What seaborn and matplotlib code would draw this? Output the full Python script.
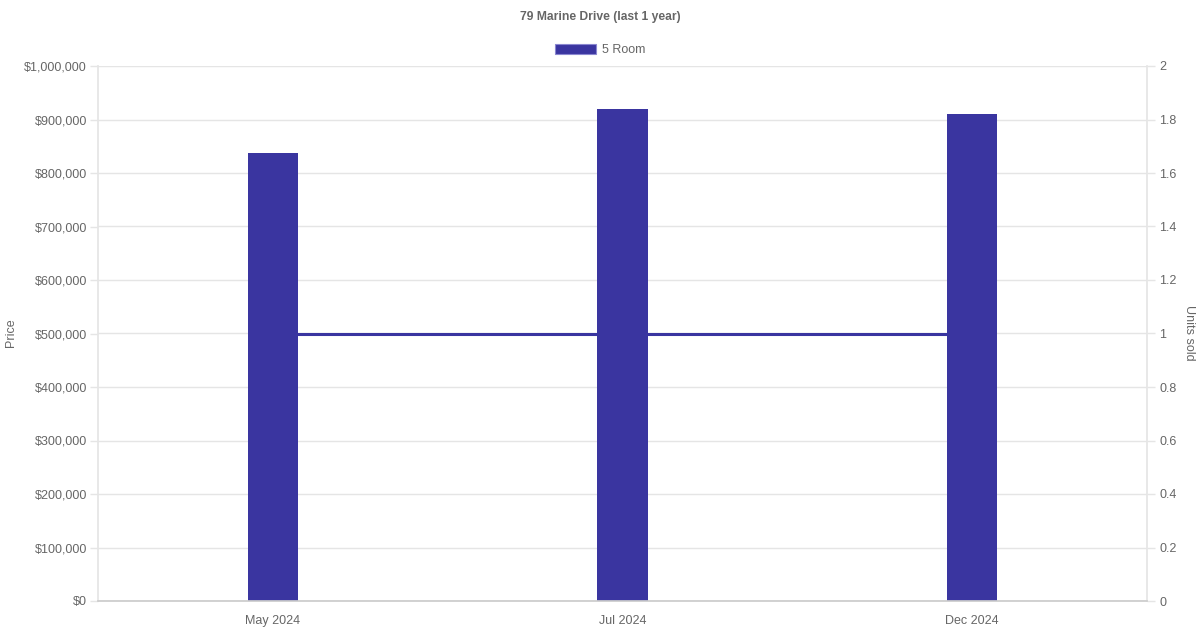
import numpy as np
import pandas as pd
import matplotlib
matplotlib.use("Agg")
import matplotlib.pyplot as plt
import seaborn as sns
from matplotlib.ticker import FuncFormatter, MultipleLocator
from matplotlib.patches import Patch

months = ["May 2024", "Jul 2024", "Dec 2024"]
prices = [837000, 920000, 910000]
units_sold = [1, 1, 1]
series_name = "5 Room"
title = "79 Marine Drive (last 1 year)"

BAR = "#3a35a0"
TXT = "#666666"
GRID = "#e5e5e5"
PX = 0.72  # points per pixel at 100 dpi

sns.set_theme(style="white")
plt.rcParams["font.family"] = ["Liberation Sans", "DejaVu Sans"]

fig = plt.figure(figsize=(12, 6.3), dpi=100)
ax = fig.add_axes([98/1200, 1 - 601/630, (1147-98)/1200, (601-66)/630])

df = pd.DataFrame({"month": months, "price": prices, "units": units_sold})
sns.barplot(data=df, x="month", y="price", color=BAR, width=0.143,
            saturation=1, ax=ax, zorder=3, edgecolor=BAR, linewidth=0)

ax2 = ax.twinx()
sns.lineplot(x=np.arange(len(months)), y=df["units"], color=BAR, linewidth=2.2,
             ax=ax2, zorder=2)
ax.set_zorder(ax2.get_zorder() + 1)
ax.patch.set_visible(False)
ax2.patch.set_visible(True)
ax2.patch.set_facecolor("white")

ax.set_xlim(-0.5, len(months) - 0.5)
ax.set_ylim(0, 1000000)
ax2.set_ylim(0, 2)
ax.yaxis.set_major_locator(MultipleLocator(100000))
ax2.yaxis.set_major_locator(MultipleLocator(0.2))
ax.yaxis.set_major_formatter(FuncFormatter(lambda v, p: "${:,.0f}".format(v)))
ax2.yaxis.set_major_formatter(FuncFormatter(lambda v, p: "{:g}".format(round(v, 1))))

# grid drawn on the (lower) twin axis so the line sits above it
ax.grid(False)
ax2.set_axisbelow(True)
ax2.grid(axis="y", color=GRID, linewidth=1, zorder=0)
ax2.grid(axis="x", visible=False)

for a in (ax, ax2):
    for s in a.spines.values():
        s.set_visible(False)
ax.spines["left"].set_visible(True)
ax.spines["left"].set_color(GRID)
ax.spines["bottom"].set_visible(True)
ax.spines["bottom"].set_color("#cccccc")
ax.spines["bottom"].set_zorder(4)
ax2.spines["right"].set_visible(True)
ax2.spines["right"].set_color(GRID)

ax.tick_params(axis="y", length=8*PX, width=1, color=GRID, labelcolor=TXT, labelsize=9, pad=3*PX)
ax2.tick_params(axis="y", length=8*PX, width=1, color=GRID, labelcolor=TXT, labelsize=9, pad=4*PX)
ax.tick_params(axis="x", length=0, labelcolor=TXT, labelsize=9, pad=10)

ax.set_xlabel("")
ax.set_ylabel("")
ax2.set_ylabel("")
fig.text(11/1200, 1 - 333/630, "Price", rotation=90, ha="center", va="center",
         color=TXT, fontsize=9)
fig.text(1189/1200, 1 - 333/630, "Units sold", rotation=270, ha="center", va="center",
         color=TXT, fontsize=9)

fig.text(0.5, 1 - 17/630, title, ha="center", va="center", color=TXT,
         fontsize=8.7, fontweight="bold")
handle = Patch(facecolor=BAR, edgecolor="#8a87d0", linewidth=0.8)
fig.legend([handle], [series_name], loc="center", bbox_to_anchor=(0.5, 1 - 50/630),
           frameon=False, handlelength=3.3, handleheight=0.9, handletextpad=0.5,
           fontsize=9, labelcolor=TXT)

fig.savefig("out.png", dpi=100)
